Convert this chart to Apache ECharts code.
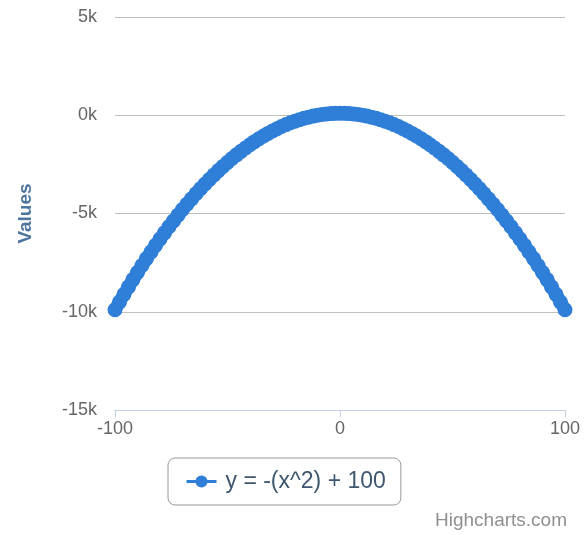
<!DOCTYPE html>
<html>
<head>
<meta charset="utf-8">
<script src="https://cdn.jsdelivr.net/npm/echarts@6/dist/echarts.min.js"></script>
<style>
html,body{margin:0;padding:0;background:#fff;}
#c{width:587px;height:535px;}
</style>
</head>
<body>
<div id="c"></div>
<script>
var seriesName = 'y = -(x^2) + 100';
var xValues = [-100,-98,-96,-94,-92,-90,-88,-86,-84,-82,-80,-78,-76,-74,-72,-70,-68,-66,-64,-62,-60,-58,-56,-54,-52,-50,-48,-46,-44,-42,-40,-38,-36,-34,-32,-30,-28,-26,-24,-22,-20,-18,-16,-14,-12,-10,-8,-6,-4,-2,0,2,4,6,8,10,12,14,16,18,20,22,24,26,28,30,32,34,36,38,40,42,44,46,48,50,52,54,56,58,60,62,64,66,68,70,72,74,76,78,80,82,84,86,88,90,92,94,96,98,100];
var yValues = [-9900,-9504,-9116,-8736,-8364,-8000,-7644,-7296,-6956,-6624,-6300,-5984,-5676,-5376,-5084,-4800,-4524,-4256,-3996,-3744,-3500,-3264,-3036,-2816,-2604,-2400,-2204,-2016,-1836,-1664,-1500,-1344,-1196,-1056,-924,-800,-684,-576,-476,-384,-300,-224,-156,-96,-44,0,36,64,84,96,100,96,84,64,36,0,-44,-96,-156,-224,-300,-384,-476,-576,-684,-800,-924,-1056,-1196,-1344,-1500,-1664,-1836,-2016,-2204,-2400,-2604,-2816,-3036,-3264,-3500,-3744,-3996,-4256,-4524,-4800,-5084,-5376,-5676,-5984,-6300,-6624,-6956,-7296,-7644,-8000,-8364,-8736,-9116,-9504,-9900];
var yTicks = [-15000,-10000,-5000,0,5000];
var xTicks = [-100,0,100];

var data = xValues.map(function(x,i){return [x,yValues[i]];});
var chart = echarts.init(document.getElementById('c'), null, {renderer:'canvas'});
chart.setOption({
  animation:false,
  textStyle:{fontFamily:'Liberation Sans, Arial, sans-serif'},
  grid:{left:115,right:22,top:17,bottom:125,containLabel:false},
  xAxis:{
    type:'value',min:xTicks[0],max:xTicks[2],interval:100,
    axisLine:{show:true,onZero:false,lineStyle:{color:'#C0D0E0',width:1}},
    axisTick:{show:true,length:7,lineStyle:{color:'#C0D0E0'}},
    splitLine:{show:false},
    axisLabel:{color:'#666666',fontSize:18,margin:10}
  },
  yAxis:{
    type:'value',min:yTicks[0],max:yTicks[4],interval:5000,
    name:'Values',nameLocation:'middle',nameGap:80,nameRotate:90,
    nameTextStyle:{color:'#4d759e',fontSize:19,fontWeight:'bold'},
    axisLine:{show:false},axisTick:{show:false},
    splitLine:{show:true,lineStyle:{color:'#C0C0C0',width:1}},
    axisLabel:{color:'#666666',fontSize:18,margin:18,formatter:function(v){return (v/1000)+'k';}}
  },
  legend:{
    show:true,left:168,top:458,
    padding:[12,15,12,17],
    borderColor:'#989898',borderWidth:1,borderRadius:7,
    itemWidth:30,itemHeight:15,
    lineStyle:{width:3},
    textStyle:{color:'#3E576F',fontSize:23,padding:[0,0,0,4]},
    data:[{name:seriesName}]
  },
  graphic:[{type:'text',right:20,top:511,style:{text:'Highcharts.com',fill:'#909090',fontSize:19,fontFamily:'Liberation Sans, Arial, sans-serif'}}],
  series:[{
    name:seriesName,type:'line',data:data,
    symbol:'circle',symbolSize:15,showSymbol:true,
    itemStyle:{color:'#2f7ed8'},
    lineStyle:{color:'#2f7ed8',width:13},
    z:3
  }]
});
</script>
</body>
</html>
